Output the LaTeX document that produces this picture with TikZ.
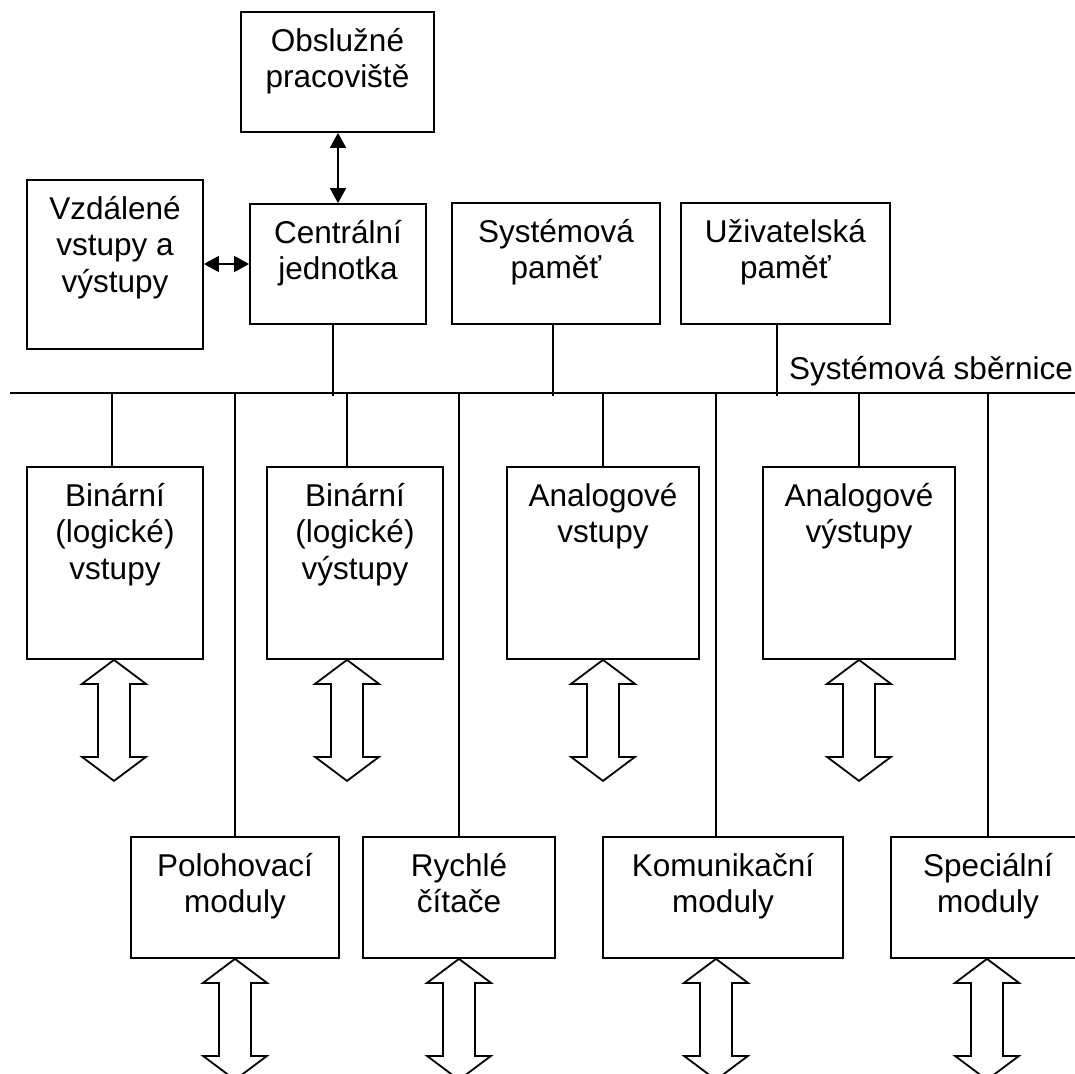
\documentclass[tikz,border=0pt]{standalone}
\usepackage{fontspec}
\setmainfont{Liberation Sans}
\usetikzlibrary{arrows.meta}
\newcommand{\tx}[1]{\rule{0pt}{40pt}#1}
\tikzset{
  box/.style={draw, line width=1.8pt, inner sep=0pt},
  txt/.style={inner sep=0pt, font=\fontsize{31.5}{36.5}\selectfont},
  lbl/.style={txt, anchor=north, align=center},
  conn/.style={line width=1.8pt},
  dar/.style={line width=1.8pt, {Triangle[length=15pt,width=16pt]}-{Triangle[length=15pt,width=16pt]}},
  dblarr/.pic={\draw[line width=1.8pt, fill=white, line join=miter]
     (0,0) -- (32,24) -- (16,24) -- (16,97) -- (32,97) -- (0,121)
     -- (-32,97) -- (-16,97) -- (-16,24) -- (-32,24) -- cycle;}
}
\begin{document}
\begin{tikzpicture}[x=1pt,y=-1pt]
\useasboundingbox (0,0) rectangle (1075,1073);
\clip (0,0) rectangle (1075,1073);

% top row
\node[box, minimum width=193pt, minimum height=120pt, label={[lbl]north:{\tx{Obslužné}\\pracoviště}}] (obs) at (337.5,72) {};
\node[box, minimum width=176pt, minimum height=169pt, label={[lbl]north:{\tx{Vzdálené}\\vstupy a\\výstupy}}] (vzd) at (115,264.5) {};
\node[box, minimum width=176pt, minimum height=120pt, label={[lbl]north:{\tx{Centrální}\\jednotka}}] (cj) at (338,264) {};
\node[box, minimum width=208pt, minimum height=121pt, label={[lbl]north:{\tx{Systémová}\\paměť}}] (sp) at (556,263.5) {};
\node[box, minimum width=209pt, minimum height=121pt, label={[lbl]north:{\tx{Uživatelská}\\paměť}}] (up) at (785.5,263.5) {};

% middle row
\node[box, minimum width=176pt, minimum height=192pt, label={[lbl]north:{\tx{Binární}\\(logické)\\vstupy}}] (bv) at (115,563) {};
\node[box, minimum width=176pt, minimum height=192pt, label={[lbl]north:{\tx{Binární}\\(logické)\\výstupy}}] (bvy) at (355,563) {};
\node[box, minimum width=192pt, minimum height=192pt, label={[lbl]north:{\tx{Analogové}\\vstupy}}] (av) at (603,563) {};
\node[box, minimum width=192pt, minimum height=192pt, label={[lbl]north:{\tx{Analogové}\\výstupy}}] (avy) at (859,563) {};

% bottom row
\node[box, minimum width=208pt, minimum height=121pt, label={[lbl]north:{\tx{Polohovací}\\moduly}}] (pol) at (235,897.5) {};
\node[box, minimum width=192pt, minimum height=121pt, label={[lbl]north:{\tx{Rychlé}\\čítače}}] (ryc) at (459,897.5) {};
\node[box, minimum width=240pt, minimum height=121pt, label={[lbl]north:{\tx{Komunikační}\\moduly}}] (kom) at (723,897.5) {};
\node[box, minimum width=194pt, minimum height=121pt, label={[lbl]north:{\tx{Speciální}\\moduly}}] (spe) at (988,897.5) {};

% bus
\coordinate (busL) at (10,393);
\coordinate (busR) at (1075,393);
\draw[conn] (busL) -- (busR);
\node[txt, anchor=base west] (buslbl) at (789,379) {Systémová sběrnice};

% thin double arrows
\draw[dar] (cj.north |- obs.south) -- (cj.north);
\draw[dar] (vzd.east |- cj.west) -- (cj.west);

% upper connections to bus
\coordinate (cjb) at ([xshift=-5pt]cj.south);
\coordinate (spb) at ([xshift=-3pt]sp.south);
\coordinate (upb) at ([xshift=-8.5pt]up.south);
\draw[conn] (cjb) -- (cjb |- busL) -- ++(0,3);
\draw[conn] (spb) -- (spb |- busL) -- ++(0,3);
\draw[conn] (upb) -- (upb |- busL) -- ++(0,3);

% lower connections from bus
\coordinate (bvt) at ([xshift=-3pt]bv.north);
\coordinate (bvyt) at ([xshift=-8pt]bvy.north);
\coordinate (komt) at ([xshift=-7pt]kom.north);
\draw[conn] (bvt |- busL) -- (bvt);
\draw[conn] (bvyt |- busL) -- (bvyt);
\draw[conn] (av.north |- busL) -- (av.north);
\draw[conn] (avy.north |- busL) -- (avy.north);
\draw[conn] (pol.north |- busL) -- (pol.north);
\draw[conn] (ryc.north |- busL) -- (ryc.north);
\draw[conn] (komt |- busL) -- (komt);
\draw[conn] (spe.north |- busL) -- (spe.north);

% block double arrows
\pic at ([xshift=-1pt]bv.south) {dblarr};
\pic at ([xshift=-8pt]bvy.south) {dblarr};
\pic at (av.south) {dblarr};
\pic at (avy.south) {dblarr};
\pic at (pol.south) {dblarr};
\pic at (ryc.south) {dblarr};
\pic at ([xshift=-7pt]kom.south) {dblarr};
\pic at ([xshift=-1pt]spe.south) {dblarr};
\end{tikzpicture}
\end{document}
